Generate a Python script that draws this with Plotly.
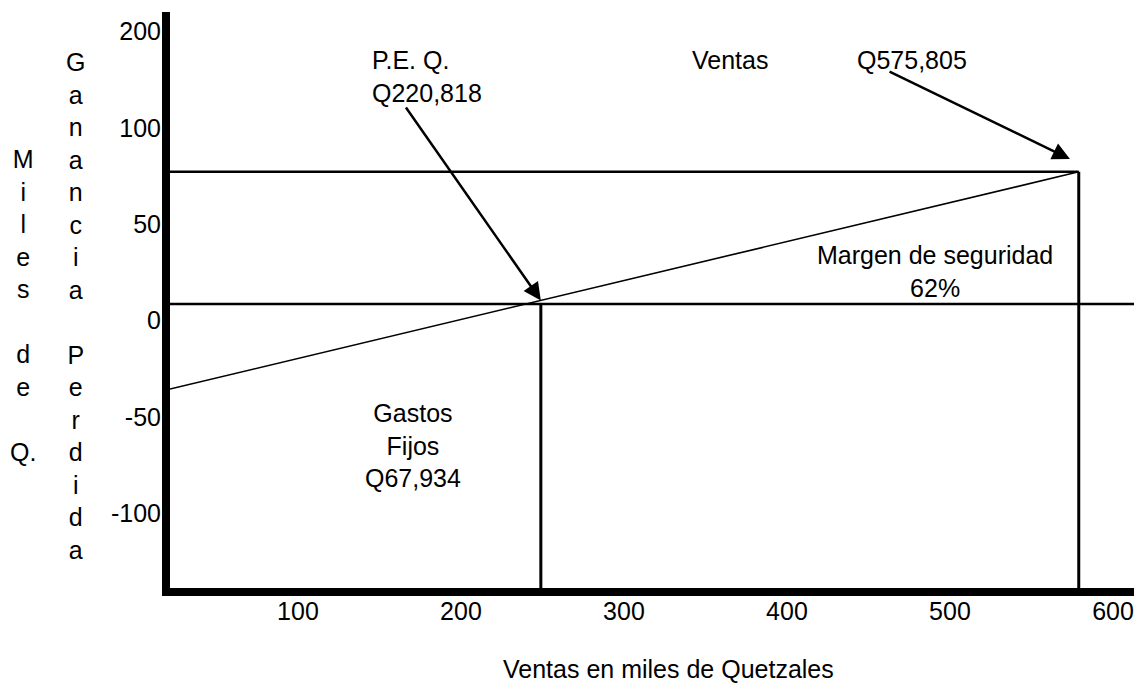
import plotly.graph_objects as go

FONT = "Liberation Sans, Arial, sans-serif"
FS = 25

# ---- tick labels (as printed on the chart) ----
x_tick_vals = [100, 200, 300, 400, 500, 600]
x_tick_text = ["100", "200", "300", "400", "500", "600"]
y_tick_vals = [150, 100, 50, 0, -50, -100]
y_tick_text = ["200", "100", "50", "0", "-50", "-100"]

# ---- axis extents ----
x_range = [21.5, 617.8]
y_range = [-138.7, 160.1]

# ---- chart values ----
profit_x = [21.5, 579]
profit_y = [-35.5, 77.2]
sales_x = 579
sales_level = 77.2
breakeven_x = 249
breakeven_level = 8.6

# ---- labels ----
lbl_peq = "P.E. Q.<br>Q220,818"
lbl_ventas = "Ventas"
lbl_sales_value = "Q575,805"
lbl_margin = "Margen de seguridad<br>62%"
lbl_fixed = "Gastos<br>Fijos<br>Q67,934"
x_title = "Ventas en miles de Quetzales"
y_title_1 = ["M", "i", "l", "e", "s", "\u00a0", "d", "e", "\u00a0", "Q."]
y_title_2 = ["G", "a", "n", "a", "n", "c", "i", "a", "\u00a0",
             "P", "e", "r", "d", "i", "d", "a"]

fig = go.Figure()

fig.add_trace(go.Scatter(x=[x_range[0], sales_x], y=[sales_level, sales_level],
                         mode="lines", line=dict(color="black", width=2.5),
                         hoverinfo="skip"))
fig.add_trace(go.Scatter(x=[x_range[0], x_range[1]], y=[breakeven_level, breakeven_level],
                         mode="lines", line=dict(color="black", width=2.5),
                         hoverinfo="skip"))
fig.add_trace(go.Scatter(x=[sales_x, sales_x], y=[y_range[0], sales_level],
                         mode="lines", line=dict(color="black", width=3),
                         hoverinfo="skip"))
fig.add_trace(go.Scatter(x=[breakeven_x, breakeven_x], y=[y_range[0], breakeven_level],
                         mode="lines", line=dict(color="black", width=3),
                         hoverinfo="skip"))
fig.add_trace(go.Scatter(x=profit_x, y=profit_y,
                         mode="lines", line=dict(color="black", width=1.6),
                         hoverinfo="skip"))

txt = dict(family=FONT, size=FS, color="black")
annotations = [
    dict(x=144.4, y=126.9, xref="x", yref="y", text=lbl_peq, showarrow=False,
         xanchor="left", yanchor="middle", align="left", font=txt),
    dict(x=365, y=135.2, xref="x", yref="y", text=lbl_ventas, showarrow=False,
         xanchor="center", yanchor="middle", font=txt),
    dict(x=476.7, y=135.2, xref="x", yref="y", text=lbl_sales_value, showarrow=False,
         xanchor="center", yanchor="middle", font=txt),
    dict(x=490.6, y=25.5, xref="x", yref="y", text=lbl_margin, showarrow=False,
         xanchor="center", yanchor="middle", align="center", font=txt),
    dict(x=170.6, y=-65.0, xref="x", yref="y", text=lbl_fixed, showarrow=False,
         xanchor="center", yanchor="middle", align="center", font=txt),
    dict(x=327.3, y=-0.141, xref="x", yref="paper", text=x_title, showarrow=False,
         xanchor="center", yanchor="middle", font=txt),
    dict(x=-0.1517, y=0.4896, xref="paper", yref="paper", text="<br>".join(y_title_1),
         showarrow=False, xanchor="center", yanchor="middle", align="center", font=txt),
    dict(x=-0.0977, y=0.4896, xref="paper", yref="paper", text="<br>".join(y_title_2),
         showarrow=False, xanchor="center", yanchor="middle", align="center", font=txt),
    # arrows
    dict(x=breakeven_x, y=10.5, ax=165.6, ay=111.3, xref="x", yref="y",
         axref="x", ayref="y", text="", showarrow=True, arrowhead=2,
         arrowsize=1.4, arrowwidth=2.5, arrowcolor="black", standoff=0),
    dict(x=573.6, y=83.8, ax=462, ay=129.5, xref="x", yref="y",
         axref="x", ayref="y", text="", showarrow=True, arrowhead=2,
         arrowsize=1.4, arrowwidth=2.5, arrowcolor="black", standoff=0),
]

fig.update_layout(
    width=1134, height=676,
    margin=dict(l=162, r=0, t=4, b=96),
    paper_bgcolor="white", plot_bgcolor="white",
    showlegend=False,
    font=txt,
    annotations=annotations,
    xaxis=dict(range=x_range, tickvals=x_tick_vals, ticktext=x_tick_text,
               showline=True, linewidth=8, linecolor="black", showgrid=False,
               zeroline=False, ticks="", tickfont=txt, fixedrange=True,
               ticklabelstandoff=-6),
    yaxis=dict(range=y_range, tickvals=y_tick_vals, ticktext=y_tick_text,
               showline=True, linewidth=8, linecolor="black", showgrid=False,
               zeroline=False, ticks="", tickfont=txt, fixedrange=True,
               ticklabelstandoff=-4),
)

fig.write_html("out.html")
